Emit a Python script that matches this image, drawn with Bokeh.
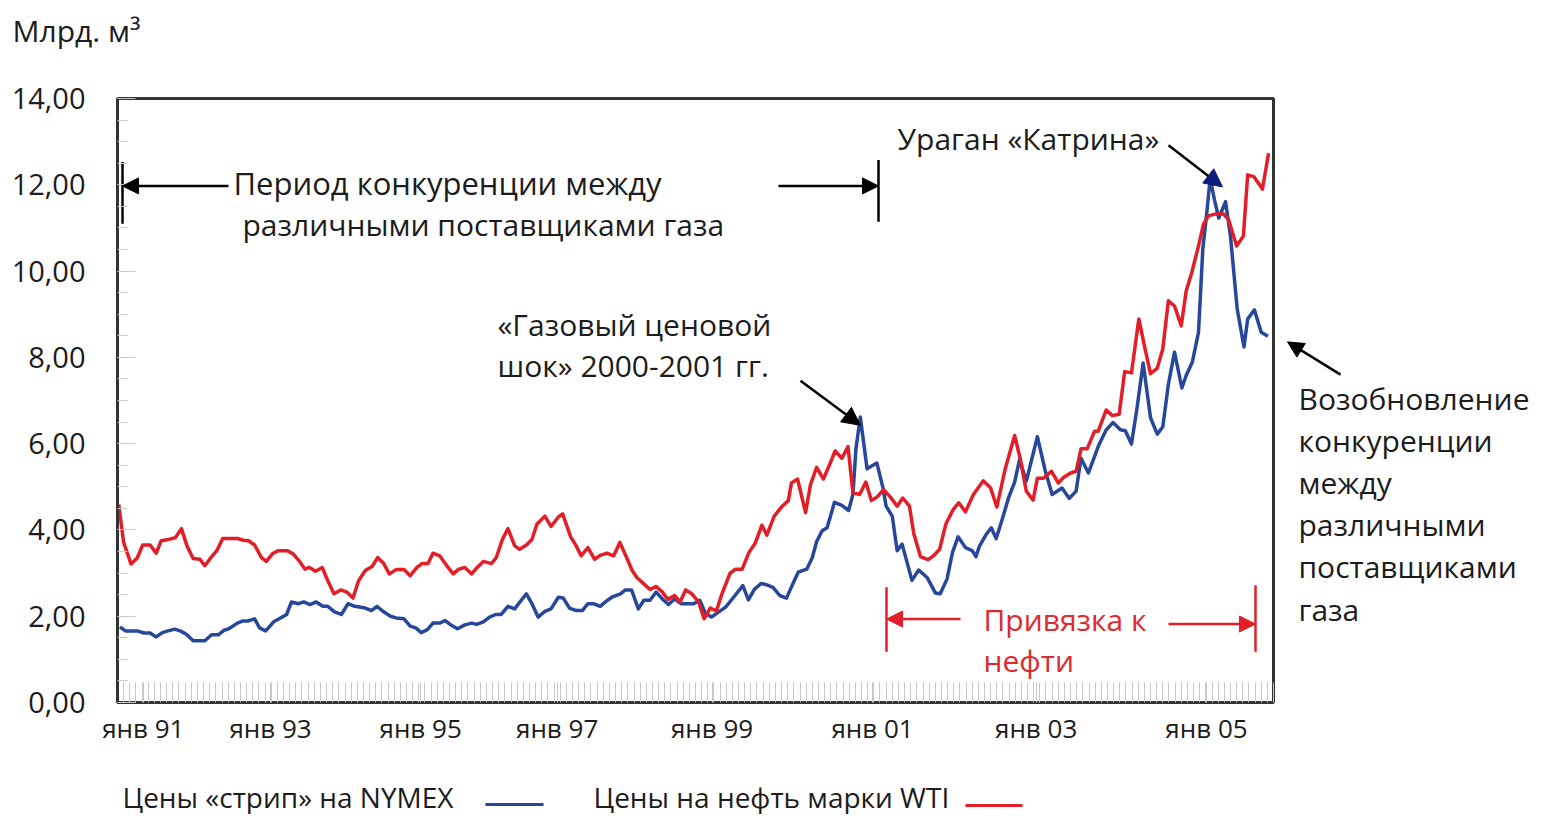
from bokeh.plotting import figure
from bokeh.layouts import row, column
from bokeh.models import Range1d, FixedTicker, Label, Arrow, NormalHead
from bokeh.embed import file_html
from bokeh.resources import INLINE

# ---------------- data (x = months since Jan 1991)
nymex_month = [0.4, 1.3, 3.2, 4.3, 5.3, 6.3, 7.3, 8.2, 9.3, 10.2, 11.2, 12.3, 14.2, 15.3, 16.4, 17.3,
               18.1, 19.5, 20.4, 21.3, 22.3, 23.1, 24.1, 25.4, 26.5, 27.5, 28.3, 29.4, 30.3, 31.3,
               32.3, 33.4, 34.2, 35.3, 36.4, 37.5, 38.6, 40.3, 41.3, 42.2, 43.1, 44.4, 45.3, 46.6,
               47.6, 48.5, 49.4, 50.4, 51.3, 52.4, 53.3, 54.3, 55.3, 56.5, 57.6, 58.4, 59.5, 60.5,
               61.5, 62.4, 63.5, 64.6, 65.5, 66.5, 67.4, 68.4, 69.5, 70.5, 71.7, 72.5, 73.5, 74.6,
               75.6, 76.5, 77.4, 78.5, 79.5, 80.4, 81.8, 82.6, 83.6, 84.7, 85.6, 86.6, 87.6, 88.6,
               89.6, 90.6, 91.7, 93.7, 94.7, 95.6, 96.6, 97.8, 98.9, 100.2, 101.7, 102.6, 103.6,
               104.7, 105.5, 106.6, 107.7, 108.8, 109.7, 110.7, 112.1, 113.0, 113.7, 114.6, 115.4,
               116.6, 117.8, 118.9, 119.6, 120.1, 120.8, 121.9, 123.5, 124.5, 125.0, 126.0, 126.8,
               127.6, 129.2, 130.3, 131.7, 133.0, 133.8, 134.9, 135.8, 136.7, 137.9, 139.0, 139.6,
               140.2, 141.3, 142.1, 142.9, 144.0, 144.9, 145.9, 146.7, 147.8, 149.6, 150.9, 152.0,
               153.6, 154.8, 155.9, 156.7, 157.9, 159.6, 160.8, 161.9, 163.1, 163.9, 164.9, 165.8,
               166.8, 168.0, 169.1, 170.0, 170.9, 171.9, 173.1, 173.8, 174.8, 175.8, 176.5, 177.2,
               177.7, 178.4, 179.1, 180.2, 181.0, 182.1, 183.2, 183.8, 184.9, 186.0, 187.1]
nymex_price = [1.75, 1.66, 1.66, 1.61, 1.61, 1.52, 1.62, 1.66, 1.70, 1.66, 1.58, 1.43, 1.43, 1.57, 1.57, 1.67,
               1.71, 1.84, 1.89, 1.89, 1.94, 1.73, 1.66, 1.87, 1.96, 2.04, 2.33, 2.29, 2.33, 2.27,
               2.33, 2.23, 2.23, 2.10, 2.04, 2.29, 2.23, 2.19, 2.13, 2.23, 2.12, 2.00, 1.96, 1.94,
               1.77, 1.73, 1.62, 1.69, 1.84, 1.84, 1.90, 1.79, 1.71, 1.80, 1.84, 1.81, 1.87, 1.98,
               2.04, 2.04, 2.23, 2.17, 2.34, 2.52, 2.29, 1.98, 2.11, 2.17, 2.44, 2.42, 2.19, 2.13,
               2.13, 2.29, 2.29, 2.23, 2.35, 2.44, 2.52, 2.61, 2.61, 2.17, 2.37, 2.37, 2.56, 2.40,
               2.27, 2.40, 2.29, 2.29, 2.37, 2.07, 1.98, 2.10, 2.21, 2.44, 2.71, 2.38, 2.63,
               2.76, 2.73, 2.67, 2.48, 2.42, 2.71, 3.02, 3.09, 3.36, 3.73, 3.98, 4.05,
               4.64, 4.57, 4.45, 4.82, 5.89, 6.62, 5.42, 5.55, 4.97, 4.55, 4.32, 3.52,
               3.67, 2.83, 3.07, 2.89, 2.54, 2.52, 2.86, 3.48, 3.84, 3.59, 3.52, 3.38,
               3.63, 3.90, 4.05, 3.80, 4.30, 4.74, 5.11, 5.63, 5.13, 6.16, 5.36, 4.82,
               4.97, 4.73, 4.90, 5.66, 5.32, 5.97, 6.32, 6.49, 6.32, 6.30, 5.99, 6.82,
               7.87, 6.60, 6.22, 6.39, 7.37, 8.12, 7.29, 7.58, 7.89, 8.58, 10.50, 11.42,
               12.15, 11.65, 11.23, 11.61, 10.81, 9.12, 8.24, 8.89, 9.10, 8.58, 8.49]

wti_month = [0.2, 1.0, 2.2, 3.2, 4.1, 5.3, 6.3, 7.1, 8.3, 9.4, 10.4, 11.3, 12.3, 13.4, 14.2, 15.1, 16.2,
             17.1, 19.5, 20.5, 21.3, 22.3, 23.4, 24.2, 25.3, 26.2, 27.6, 28.6, 29.5, 30.5, 31.2,
             32.2, 33.3, 34.2, 35.2, 36.3, 37.3, 38.3, 39.2, 40.3, 41.4, 42.3, 43.3, 44.2, 45.3,
             46.6, 47.6, 48.7, 49.5, 50.5, 51.3, 52.4, 53.5, 54.6, 55.5, 56.5, 57.6, 58.5, 59.5,
             60.8, 61.6, 62.6, 63.5, 64.6, 65.4, 66.5, 67.4, 68.2, 69.5, 70.5, 71.7, 72.4, 73.7,
             74.6, 75.4, 76.5, 77.6, 78.5, 79.6, 80.7, 81.7, 82.8, 83.7, 84.5, 85.6, 86.6, 87.6,
             88.6, 89.5, 90.6, 91.5, 92.4, 93.4, 94.5, 95.4, 96.4, 97.4, 98.3, 99.6, 100.5, 101.6,
             102.7, 103.7, 104.8, 105.6, 106.8, 108.1, 109.1, 109.6, 110.6, 111.9, 112.7, 113.7,
             114.8, 115.8, 116.7, 117.8, 118.8, 119.6, 120.7, 121.7, 122.6, 123.5, 124.6, 125.7,
             126.8, 127.7, 128.8, 129.5, 130.6, 131.8, 132.7, 133.7, 134.7, 135.9, 136.8, 137.9,
             139.2, 140.8, 142.0, 143.0, 144.4, 145.9, 146.8, 147.8, 148.9, 149.6, 150.6, 151.9,
             153.0, 153.9, 155.0, 155.9, 156.7, 157.7, 158.9, 159.5, 160.8, 161.8, 162.9, 163.8,
             164.9, 166.1, 167.0, 168.0, 169.1, 170.0, 170.9, 171.9, 173.0, 173.8, 174.7, 175.8,
             176.6, 177.4, 178.5, 179.9, 180.7, 182.0, 183.1, 183.8, 184.8, 186.2, 187.2]
wti_price = [4.59, 3.71, 3.21, 3.35, 3.65, 3.65, 3.46, 3.75, 3.78, 3.82, 4.03, 3.63, 3.34, 3.32, 3.17, 3.34, 3.53,
             3.80, 3.80, 3.76, 3.75, 3.65, 3.36, 3.27, 3.46, 3.52, 3.52, 3.44, 3.29, 3.09, 3.13,
             3.04, 3.13, 2.82, 2.52, 2.61, 2.56, 2.42, 2.82, 3.06, 3.15, 3.36, 3.22, 2.98, 3.08,
             3.08, 2.94, 3.13, 3.22, 3.22, 3.46, 3.40, 3.18, 2.98, 3.09, 3.13, 2.98, 3.13, 3.27,
             3.22, 3.36, 3.78, 4.03, 3.63, 3.55, 3.65, 3.78, 4.13, 4.32, 4.08, 4.30, 4.37, 3.84,
             3.63, 3.40, 3.59, 3.32, 3.41, 3.46, 3.40, 3.71, 3.36, 3.06, 2.89, 2.75, 2.62, 2.69,
             2.56, 2.39, 2.48, 2.33, 2.61, 2.52, 2.33, 1.94, 2.19, 2.12, 2.52, 2.99, 3.09, 3.09,
             3.48, 3.69, 4.11, 3.88, 4.32, 4.55, 4.68, 5.09, 5.18, 4.40, 5.05, 5.45,
             5.18, 5.51, 5.83, 5.66, 5.93, 4.86, 4.82, 5.11, 4.68, 4.76, 4.93, 4.76,
             4.55, 4.74, 4.55, 3.91, 3.38, 3.31, 3.40, 3.55, 4.13, 4.47, 4.63, 4.42,
             4.82, 5.14, 4.97, 4.53, 5.43, 6.19, 5.66, 4.90, 4.69, 5.20, 5.20, 5.36,
             5.09, 5.22, 5.32, 5.36, 5.88, 5.88, 6.29, 6.29, 6.78, 6.65, 6.68, 7.67,
             7.64, 8.89, 8.27, 7.62, 7.75, 8.20, 9.31, 9.19, 8.73, 9.54, 9.96, 10.58,
             11.08, 11.28, 11.32, 11.32, 11.19, 10.58, 10.81, 12.23, 12.19, 11.90, 12.73]

x_tick_pos = [4.2, 24.9, 49.3, 71.5, 96.7, 122.8, 149.4, 177.1]
x_tick_labels = ["янв 91", "янв 93", "янв 95", "янв 97", "янв 99", "янв 01", "янв 03", "янв 05"]
y_ticks = [0, 2, 4, 6, 8, 10, 12, 14]
y_tick_labels = ["0,00", "2,00", "4,00", "6,00", "8,00", "10,00", "12,00", "14,00"]

series_names = ["Цены «стрип» на NYMEX", "Цены на нефть марки WTI"]
unit_label = "Млрд. м³"

# ---------------- layout geometry (page pixels)
X_MAX, Y_MAX = 188, 14
FR_L, FR_R, FR_T, FR_B = 117, 1273, 98, 706
PAGE_W = 1540
TOP_H = 60
MAIN_H = 748 - TOP_H
LEG_H = 66
MAIN_W = FR_R + 10
BORDER_T = FR_T - TOP_H
BORDER_B = TOP_H + MAIN_H - FR_B
PXM = (FR_R - FR_L) / X_MAX          # px per month
PXV = (FR_B - FR_T) / Y_MAX          # px per unit


def xm(px):
    return (px - FR_L) / PXM


def yv(py):
    return (FR_B - py) / PXV


FONT = "Open Sans"
BLUE = "#27479b"
RED = "#e41e26"
TXT = "#1c1c1c"
RED_TXT = "#dc2a30"
ANN = "30px"


def blank_fig(w, h, x0, x1, y0, y1, top=0, bottom=0):
    f = figure(width=w, height=h, output_backend="svg", toolbar_location=None,
               x_range=Range1d(x0, x1), y_range=Range1d(y0, y1),
               x_axis_type=None, y_axis_type=None,
               min_border_left=0, min_border_right=0, min_border_top=top, min_border_bottom=bottom)
    f.outline_line_color = None
    f.xgrid.grid_line_color = None
    f.ygrid.grid_line_color = None
    f.background_fill_color = "white"
    f.border_fill_color = "white"
    return f


def label(f, x, y, text, color=TXT, size=ANN):
    f.add_layout(Label(x=x, y=y, text=text, text_font=FONT, text_font_size=size,
                       text_color=color, text_baseline="middle", text_align="left"))


def arrow(f, x0, y0, x1, y1, color="black", head_color=None, width=2.5, size=16):
    hc = head_color or color
    f.add_layout(Arrow(x_start=x0, y_start=y0, x_end=x1, y_end=y1,
                       end=NormalHead(size=size, fill_color=hc, line_color=hc),
                       line_color=color, line_width=width))


# ---------------- main plot
p = figure(width=MAIN_W, height=MAIN_H, output_backend="svg", toolbar_location=None,
           x_range=Range1d(0, X_MAX), y_range=Range1d(0, Y_MAX),
           min_border_left=FR_L, min_border_right=10,
           min_border_top=BORDER_T, min_border_bottom=BORDER_B)
p.background_fill_color = "white"
p.border_fill_color = "white"
p.outline_line_color = "#333333"
p.outline_line_width = 3
p.xgrid.grid_line_color = None
p.ygrid.grid_line_color = None

p.yaxis.ticker = FixedTicker(ticks=y_ticks, minor_ticks=[i * 0.5 for i in range(29)])
p.yaxis.major_label_overrides = {t: l for t, l in zip(y_ticks, y_tick_labels)}
p.xaxis.ticker = FixedTicker(ticks=x_tick_pos, minor_ticks=list(range(0, X_MAX + 1)))
p.xaxis.major_label_overrides = {t: l for t, l in zip(x_tick_pos, x_tick_labels)}
for ax in (p.xaxis, p.yaxis):
    ax.axis_line_color = "#333333"
    ax.axis_line_width = 3
    ax.major_label_text_font = FONT
    ax.major_label_text_color = TXT
    ax.minor_tick_line_color = "#c8c8c8"
    ax.minor_tick_out = 0
    ax.major_tick_out = 0
    ax.major_tick_line_color = "#c8c8c8"
p.yaxis.major_label_text_font_size = "29px"
p.xaxis.major_label_text_font_size = "26px"
p.yaxis.minor_tick_in = 10
p.yaxis.major_tick_in = 18
p.yaxis.major_label_standoff = 32
p.xaxis.minor_tick_in = 20
p.xaxis.major_tick_in = 20
p.xaxis.major_label_standoff = 7

p.line(nymex_month, nymex_price, line_color=BLUE, line_width=3.5, line_join="round")
p.line(wti_month, wti_price, line_color=RED, line_width=3.5, line_join="round")

# period of competition
p.segment(x0=[xm(122), xm(878)], y0=[yv(162), yv(160)], x1=[xm(122), xm(878)], y1=[yv(224), yv(222)],
          line_color="black", line_width=2.5)
arrow(p, xm(228), yv(186), xm(122), yv(186))
arrow(p, xm(778), yv(186), xm(878), yv(186))
label(p, xm(233), yv(183), "Период конкуренции между", size="31px")
label(p, xm(242), yv(225), "различными поставщиками газа")

# Katrina
label(p, xm(897), yv(138), "Ураган «Катрина»")
arrow(p, xm(1168), yv(145), xm(1222), yv(187), head_color="#0d1f7a", size=18)

# gas price shock
label(p, xm(497), yv(325), "«Газовый ценовой")
label(p, xm(497), yv(367), "шок» 2000-2001 гг.")
arrow(p, xm(800), yv(382), xm(860), yv(427), size=18)

# oil indexation
p.segment(x0=[xm(886), xm(1255)], y0=[yv(590), yv(588)], x1=[xm(886), xm(1255)], y1=[yv(655), yv(655)],
          line_color=RED, line_width=2.5)
arrow(p, xm(960), yv(622), xm(886), yv(622), color=RED)
arrow(p, xm(1168), yv(627), xm(1255), yv(627), color=RED)
label(p, xm(983), yv(622), "Привязка к", color=RED_TXT)
label(p, xm(983), yv(664), "нефти", color=RED_TXT)

# ---------------- top strip (unit label)
top = blank_fig(PAGE_W, TOP_H, xm(0), xm(PAGE_W), yv(TOP_H), yv(0))
label(top, xm(12), yv(30), unit_label)

# ---------------- right strip (renewed competition); frame aligned with the main frame
right = blank_fig(PAGE_W - MAIN_W, MAIN_H, xm(MAIN_W), xm(PAGE_W), 0, Y_MAX,
                  top=BORDER_T, bottom=BORDER_B)
right_lines = ["Возобновление", "конкуренции", "между", "различными", "поставщиками", "газа"]
for i, t in enumerate(right_lines):
    label(right, xm(1298), yv(400 + i * 42.4), t)
arrow(right, xm(1340), yv(376), xm(1287), yv(343), size=16)

# ---------------- legend strip
leg = blank_fig(PAGE_W, LEG_H, xm(0), xm(PAGE_W), yv(TOP_H + MAIN_H + LEG_H), yv(TOP_H + MAIN_H))
label(leg, xm(122), yv(796), series_names[0], size="28px")
leg.line([xm(485), xm(543)], [yv(804), yv(804)], line_color=BLUE, line_width=3)
label(leg, xm(593), yv(796), series_names[1], size="28px")
leg.line([xm(965), xm(1022)], [yv(805), yv(805)], line_color=RED, line_width=3)

layout = column(top, row(p, right, spacing=0), leg, spacing=0)
open("out.html", "w").write(file_html(layout, INLINE))
